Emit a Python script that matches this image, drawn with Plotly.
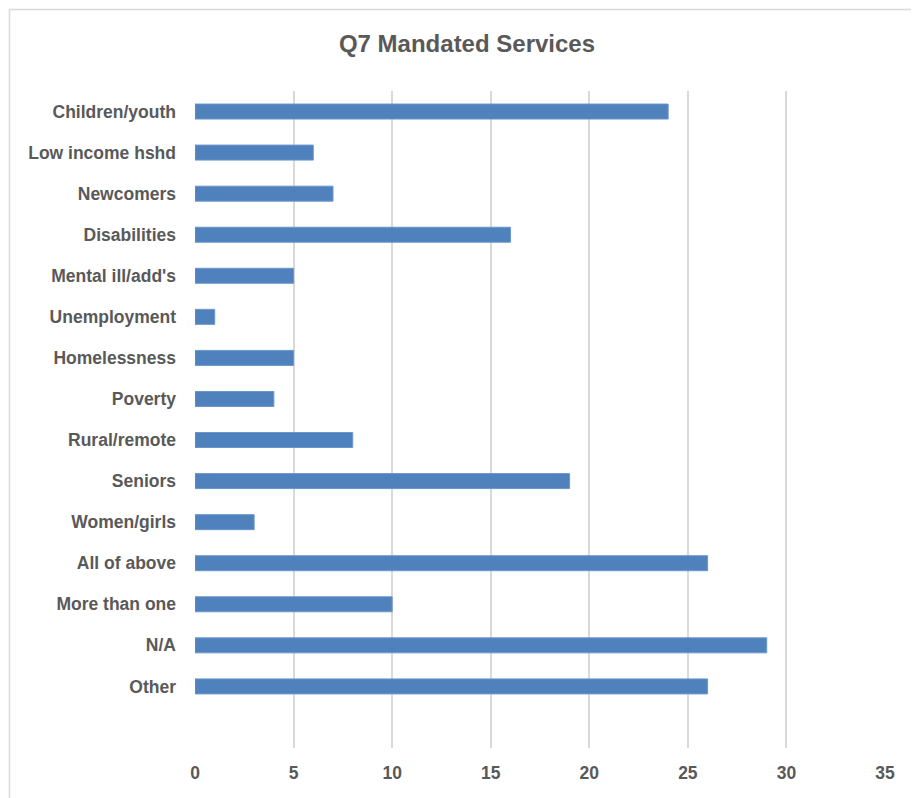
import plotly.graph_objects as go

categories = ["Children/youth", "Low income hshd", "Newcomers", "Disabilities",
              "Mental ill/add's", "Unemployment", "Homelessness", "Poverty",
              "Rural/remote", "Seniors", "Women/girls", "All of above",
              "More than one", "N/A", "Other"]
values = [24, 6, 7, 16, 5, 1, 5, 4, 8, 19, 3, 26, 10, 29, 26]
x_ticks = [0, 5, 10, 15, 20, 25, 30, 35]

FONT = "Liberation Sans, Arial, sans-serif"
GRAY = "#595959"

# the page body adds an 8px offset; margins compensate so the plot area lands at 195..886 x 91..748
fig = go.Figure(go.Bar(
    x=values, y=categories, orientation="h",
    marker=dict(color="#4f81bd", line=dict(color="#6a96cc", width=1)),
    hoverinfo="x+y",
))

fig.update_layout(
    width=919, height=798,
    margin=dict(l=187, r=41, t=83, b=58, autoexpand=False),
    paper_bgcolor="white", plot_bgcolor="white",
    bargap=0.635,
    showlegend=False,
    title=dict(text="<b>Q7 Mandated Services</b>", x=459 / 919, xref="container",
               y=1 - 36 / 798, yref="container", xanchor="center", yanchor="middle",
               font=dict(family=FONT, size=24, color=GRAY)),
    font=dict(family=FONT, color=GRAY),
    shapes=[dict(type="rect", xref="paper", yref="paper",
                 x0=(9.5 - 195) / 691, x1=(930 - 195) / 691,
                 y0=-(810 - 748) / 657, y1=1 + (91 - 9.5) / 657,
                 line=dict(color="#d9d9d9", width=1.5), layer="below")],
)

fig.update_xaxes(range=[0, 35.05], tickvals=x_ticks, showgrid=True,
                 gridcolor="#d9d9d9", gridwidth=1.5, zeroline=False, showline=False,
                 ticks="", ticklabelstandoff=12, automargin=False,
                 tickfont=dict(family=FONT, size=17.5, color=GRAY, weight="bold"))
fig.update_yaxes(type="category", categoryorder="array", categoryarray=categories,
                 range=[15.5, -0.5], showgrid=False, zeroline=False, showline=False,
                 ticks="", ticklabelstandoff=18, automargin=False,
                 tickfont=dict(family=FONT, size=17.5, color=GRAY, weight="bold"))

fig.write_html("out.html")
